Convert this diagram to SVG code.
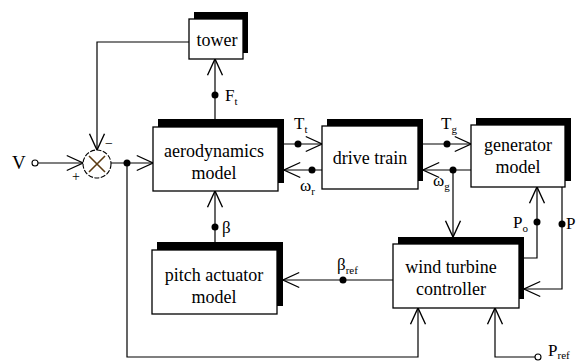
<svg xmlns="http://www.w3.org/2000/svg" width="578" height="363" viewBox="0 0 578 363">
<style>
.sh{fill:#000}
.bx{fill:#fff;stroke:#000;stroke-width:1.3}
.t{font-family:"Liberation Serif","Times New Roman",serif;font-size:18px;fill:#000;text-anchor:middle}
.l{font-family:"Liberation Serif","Times New Roman",serif;font-size:17px;fill:#000}
.s{font-size:11px}
.c{fill:none;stroke:#000;stroke-width:1.2}
.d{fill:#000}
</style>
<defs>
<marker id="a" markerUnits="userSpaceOnUse" markerWidth="20" markerHeight="20" viewBox="-14 -8 16 16" refX="0" refY="0" orient="auto">
<path d="M-13,-6 L0,0 L-13,6" fill="none" stroke="#000" stroke-width="1.1"/>
</marker>
</defs>
<rect width="578" height="363" fill="#fff"/>
<g id="connectors">
<path class="c" d="M189,42 H97 V150" marker-end="url(#a)"/>
<circle cx="35" cy="163" r="3" fill="#fff" stroke="#000" stroke-width="1.1"/>
<path class="c" d="M38,163 H83" marker-end="url(#a)"/>
<path class="c" d="M111,163 H153" marker-end="url(#a)"/>
<circle class="d" cx="127" cy="163" r="3.5"/>
<path class="c" d="M127,163 V357 H418 V308" marker-end="url(#a)"/>
<path class="c" d="M215,119 V59" marker-end="url(#a)"/>
<circle class="d" cx="215" cy="95" r="3.5"/>
<path class="c" d="M215,242 V191" marker-end="url(#a)"/>
<circle class="d" cx="215" cy="227" r="3.5"/>
<path class="c" d="M284,144 H322" marker-end="url(#a)"/>
<circle class="d" cx="298" cy="144" r="3.5"/>
<path class="c" d="M322,170 H284" marker-end="url(#a)"/>
<circle class="d" cx="312" cy="170" r="3.5"/>
<path class="c" d="M423,144 H471" marker-end="url(#a)"/>
<circle class="d" cx="447" cy="144" r="3.5"/>
<path class="c" d="M471,170 H423" marker-end="url(#a)"/>
<circle class="d" cx="453" cy="170" r="3.5"/>
<path class="c" d="M453,170 V237" marker-end="url(#a)"/>
<path class="c" d="M524,258 H537 V187" marker-end="url(#a)"/>
<circle class="d" cx="537" cy="222" r="3.5"/>
<path class="c" d="M562,187 V289 H524" marker-end="url(#a)"/>
<circle class="d" cx="562" cy="224" r="3.5"/>
<path class="c" d="M393,280 H283" marker-end="url(#a)"/>
<circle class="d" cx="343" cy="280" r="3.5"/>
<path class="c" d="M535,357 H495 V308" marker-end="url(#a)"/>
<circle cx="538" cy="357" r="3" fill="#fff" stroke="#000" stroke-width="1.1"/>
</g>
<g id="sum">
<circle cx="97" cy="164" r="14" fill="#fff" stroke="#000" stroke-width="1.1" stroke-dasharray="5 1.5"/>
<path d="M89,156 L105,172 M105,156 L89,172" stroke="#5a3a10" stroke-width="1.6"/>
<text class="l" x="72" y="181" style="font-size:14px">+</text>
<text class="l" x="105" y="148" style="font-size:14px">−</text>
</g>
<g id="tower">
<rect class="sh" x="194" y="12" width="54" height="41"/>
<rect class="bx" x="189" y="19" width="54" height="40"/>
<text class="t" x="217" y="46">tower</text>
</g>
<g id="aerodynamics">
<rect class="sh" x="158" y="119" width="126" height="64"/>
<rect class="bx" x="153" y="127" width="125" height="64"/>
<text class="t" x="214" y="157">aerodynamics</text>
<text class="t" x="214" y="179">model</text>
</g>
<g id="drivetrain">
<rect class="sh" x="327" y="119" width="96" height="62"/>
<rect class="bx" x="322" y="126" width="96" height="63"/>
<text class="t" x="370" y="164">drive train</text>
</g>
<g id="generator">
<rect class="sh" x="476" y="118" width="95" height="63"/>
<rect class="bx" x="471" y="125" width="94" height="62"/>
<text class="t" x="518" y="151">generator</text>
<text class="t" x="518" y="173">model</text>
</g>
<g id="pitch">
<rect class="sh" x="157" y="242" width="126" height="64"/>
<rect class="bx" x="152" y="250" width="125" height="64"/>
<text class="t" x="214" y="281">pitch actuator</text>
<text class="t" x="214" y="303">model</text>
</g>
<g id="controller">
<rect class="sh" x="398" y="237" width="126" height="62"/>
<rect class="bx" x="393" y="244" width="126" height="64"/>
<text class="t" x="451" y="273">wind turbine</text>
<text class="t" x="451" y="295">controller</text>
</g>
<g id="labels">
<text class="l" x="12" y="169" style="font-size:19px">V</text>
<text class="l" x="225" y="101">F<tspan class="s" dy="4">t</tspan></text>
<text class="l" x="294" y="129">T<tspan class="s" dy="4">t</tspan></text>
<text class="l" x="300" y="191">ω<tspan class="s" dy="4">r</tspan></text>
<text class="l" x="441" y="129">T<tspan class="s" dy="4">g</tspan></text>
<text class="l" x="433" y="186">ω<tspan class="s" dy="4">g</tspan></text>
<text class="l" x="222" y="233">β</text>
<text class="l" x="337" y="270">β<tspan class="s" dy="4">ref</tspan></text>
<text class="l" x="513" y="228">P<tspan class="s" dy="4">o</tspan></text>
<text class="l" x="566" y="229">P</text>
<text class="l" x="548" y="356">P<tspan class="s" dy="3">ref</tspan></text>
</g>
</svg>
